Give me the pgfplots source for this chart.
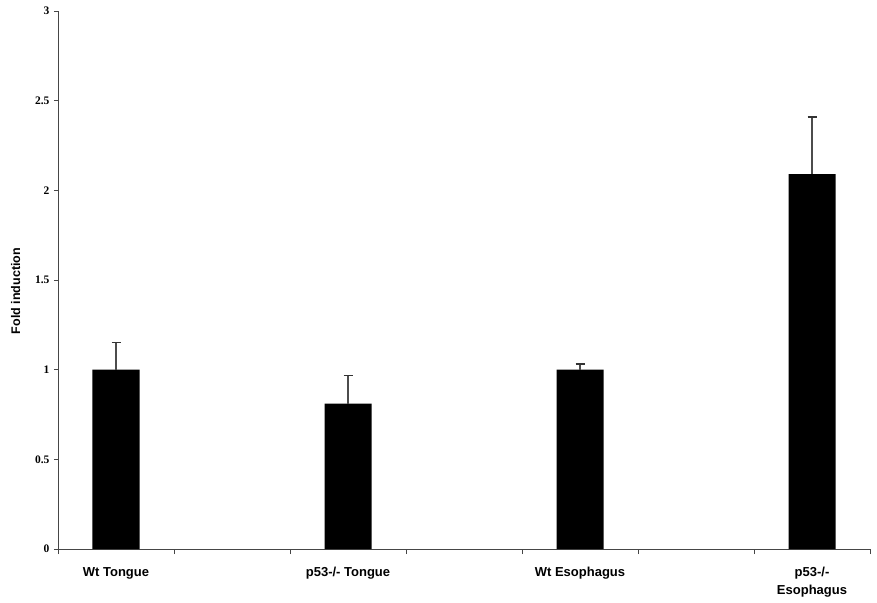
\documentclass[border=0pt]{standalone}
\usepackage{fontspec}
\setmainfont{Liberation Serif}
\setsansfont{Liberation Sans}
\usepackage{pgfplots}
\pgfplotsset{compat=1.18}
\begin{document}
\begin{tikzpicture}
\begin{axis}[name=ax, scale only axis, width=812pt, height=538pt,
  xmin=-0.5, xmax=6.5, ymin=0, ymax=3,
  axis x line*=bottom, axis y line*=left,
  axis line style={gray!55!black, line width=0.8pt},
  ytick={0,0.5,1,1.5,2,2.5,3},
  /pgf/number format/assume math mode=true,
  yticklabel style={font=\bfseries\fontsize{11.5}{13}\selectfont, xshift=-1pt},
  tick align=outside, major tick length=4pt,
  tick style={gray!55!black, line width=0.8pt},
  xtick={0,2,4,6},
  xticklabels={Wt Tongue, p53-/- Tongue, Wt Esophagus, p53-/-\\Esophagus},
  major x tick style={draw=none},
  minor xtick={-0.5,0.5,1.5,2.5,3.5,4.5,5.5,6.5},
  minor tick length=5pt,
  minor x tick style={gray!55!black, line width=0.8pt},
  xticklabel style={font=\sffamily\bfseries\fontsize{13}{18}\selectfont, align=center, anchor=north, yshift=-11pt},
  ylabel={Fold induction},
  every axis y label/.style={at={(ticklabel cs:0.5)}, rotate=90, anchor=center, yshift=16pt, xshift=-11pt,
    font=\sffamily\bfseries\fontsize{12.5}{14}\selectfont},
  ybar, bar width=47pt,
]
\addplot[fill=black, draw=none,
  error bars/.cd, y dir=plus, y explicit,
  error bar style={gray!60!black, line width=1.4pt},
  error mark options={rotate=90, mark size=4.5pt, gray!40!black, line width=1.4pt}]
  coordinates {
  (0,1.0) +- (0,0.15)
  (2,0.81) +- (0,0.157)
  (4,1.0) +- (0,0.032)
  (6,2.09) +- (0,0.318)
};
\end{axis}
\pgfresetboundingbox
\path ([xshift=-58pt,yshift=-53pt]ax.south west) rectangle ([xshift=7pt,yshift=11pt]ax.north east);
\end{tikzpicture}
\end{document}
